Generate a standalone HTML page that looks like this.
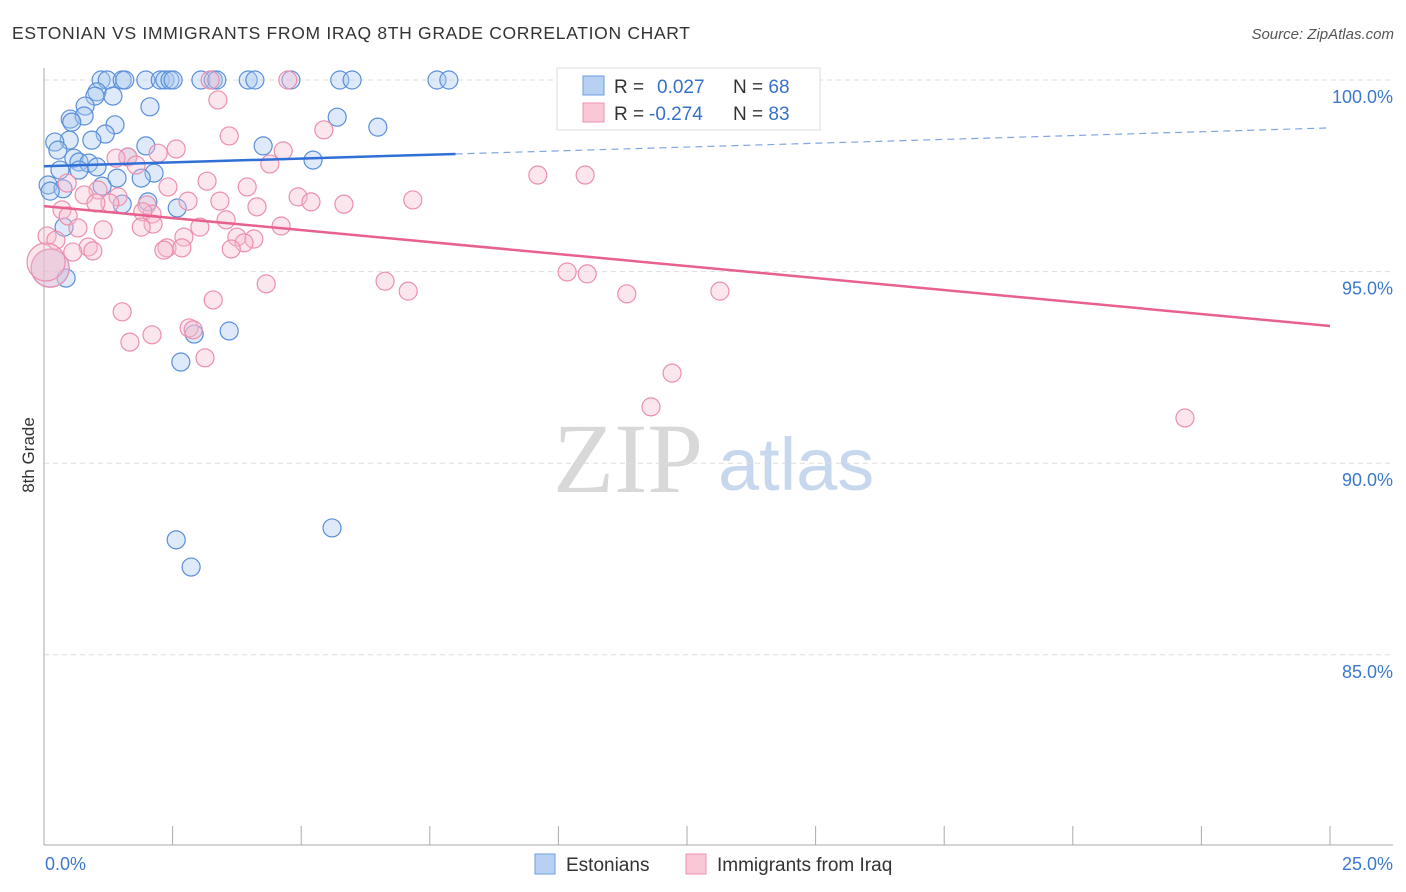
<!DOCTYPE html>
<html><head><meta charset="utf-8"><style>
body{margin:0;background:#fff;font-family:"Liberation Sans",sans-serif;}
svg{display:block}
</style></head><body>
<svg id="chart" width="1406" height="892" xmlns="http://www.w3.org/2000/svg">
<text x="12" y="39" font-size="17.5" fill="#333" textLength="678">ESTONIAN VS IMMIGRANTS FROM IRAQ 8TH GRADE CORRELATION CHART</text>
<text x="1394" y="39" font-size="15" fill="#555" font-style="italic" text-anchor="end">Source: ZipAtlas.com</text>
<g>
<text x="553" y="492" font-family="Liberation Serif,serif" font-size="100" fill="#d8d8d8">ZIP</text>
<text x="718" y="490" font-size="74" fill="#c7d8ee">atlas</text>
</g>
<g id="grid"></g>
<g id="axes"></g>
<g id="pts"></g>
<g id="trend"></g>
<text transform="translate(34,455) rotate(-90)" font-size="17" fill="#333" text-anchor="middle">8th Grade</text>
<g>
<rect x="557" y="68" width="263" height="62" fill="#fff" stroke="#ddd"/>
<rect x="583" y="76" width="21" height="19" fill="#b8d1f3" stroke="#6c9de0"/>
<rect x="583" y="103" width="21" height="19" fill="#f9c8d7" stroke="#ec92ae"/>
<text x="614" y="93" font-size="19" fill="#333">R = <tspan fill="#3671c9" x="657">0.027</tspan><tspan x="733" fill="#333">N = </tspan><tspan fill="#3671c9">68</tspan></text>
<text x="614" y="120" font-size="19" fill="#333">R = <tspan fill="#3671c9" x="649">-0.274</tspan><tspan x="733" fill="#333">N = </tspan><tspan fill="#3671c9">83</tspan></text>
</g>
<g>
<rect x="535" y="854" width="20" height="20" fill="#b8d1f3" stroke="#6c9de0"/>
<text x="566" y="871" font-size="19" fill="#333">Estonians</text>
<rect x="686" y="854" width="20" height="20" fill="#f9c8d7" stroke="#ec92ae"/>
<text x="717" y="871" font-size="19" fill="#333">Immigrants from Iraq</text>
</g>
</svg>
<script>
const yTicks=[100,95,90,85];
const xTickLabels=["0.0%","25.0%"];
const blueX=[1.11,1.23,1.52,1.57,1.98,2.26,2.35,2.45,2.51,3.05,3.29,3.36,3.97,4.10,4.80,5.75,5.99,7.64,7.87,1.03,0.99,1.34,0.80,2.06,0.51,0.78,0.54,5.70,1.38,6.49,1.19,0.49,0.93,0.21,1.98,4.26,0.27,0.58,0.68,0.87,1.63,5.23,1.03,0.31,0.68,2.14,1.42,1.89,0.08,1.13,0.37,0.12,1.52,2.02,2.59,0.39,0.43,3.60,2.92,2.66,2.57,2.86,5.60,0.12];
const blueY=[100,100,100,100,100,100,100,100,100,100,100,100,100,100,100,100,100,100,100,99.69,99.58,99.58,99.32,99.30,98.98,99.06,98.90,99.03,98.83,98.77,98.59,98.43,98.43,98.38,98.28,98.28,98.17,97.96,97.86,97.83,97.99,97.91,97.73,97.65,97.65,97.57,97.44,97.44,97.26,97.23,97.16,97.10,96.76,96.82,96.66,96.16,94.83,93.45,93.37,92.64,88.00,87.29,88.31,95.09];
const pinkX=[14.09,4.74,3.23,3.38,3.60,5.44,2.57,4.65,1.63,2.22,1.79,4.39,1.40,9.60,10.52,0.45,3.17,2.41,3.95,1.05,0.78,1.44,1.28,1.01,2.00,2.80,3.42,4.94,5.19,5.83,7.17,4.14,0.35,0.47,2.10,1.92,2.12,1.89,3.54,3.03,4.61,2.72,3.75,4.08,3.89,1.15,0.66,0.06,0.23,2.39,2.33,2.68,0.86,0.95,0.56,3.64,10.17,10.56,6.63,4.32,7.08,11.33,13.14,3.29,1.52,1.67,2.10,2.82,2.90,3.13,12.21,11.80,22.18,0.12,0.04];
const pinkY=[100,100,100,99.48,98.54,98.70,98.20,98.15,97.99,98.09,97.78,97.81,97.96,97.52,97.52,97.31,97.36,97.21,97.21,97.13,97.00,96.95,96.79,96.79,96.74,96.84,96.84,96.95,96.82,96.76,96.87,96.69,96.61,96.45,96.50,96.56,96.24,96.16,96.35,96.16,96.19,95.90,95.90,95.85,95.75,96.09,96.14,95.93,95.82,95.62,95.56,95.62,95.64,95.54,95.51,95.59,94.99,94.94,94.75,94.68,94.49,94.42,94.49,94.26,93.95,93.16,93.35,93.53,93.48,92.75,92.35,91.47,91.18,95.09,95.25];
const blueTrend=[97.75,98.75];
const pinkTrend=[96.71,93.58];
const NS="http://www.w3.org/2000/svg";
const X=v=>44+v/25*1286;
const Y=v=>80+(100-v)/5*191.6;
function mk(tag,attrs,parent){const e=document.createElementNS(NS,tag);for(const k in attrs)e.setAttribute(k,attrs[k]);document.getElementById(parent).appendChild(e);return e;}
yTicks.forEach(t=>{
 const g=mk('line',{x1:44,x2:1393,y1:Y(t),y2:Y(t),stroke:'#ddd','stroke-dasharray':'5,4'},'grid');
 
 
 const l=mk('text',{x:1393,y:Y(t)+23,'text-anchor':'end','font-size':18,fill:'#3d78cf'},'grid');
 l.textContent=t.toFixed(1)+'%';
 
 
});
const ax=mk('line',{x1:44,x2:44,y1:68,y2:845,stroke:'#aaa'},'axes');


const bx=mk('line',{x1:44,x2:1393,y1:845,y2:845,stroke:'#aaa'},'axes');


for(let i=0;i<=10;i++){const t=mk('line',{x1:X(i*2.5),x2:X(i*2.5),y1:826,y2:845,stroke:'#aaa'},'axes');
 
 }
[[0,'start',45],[25,'end',1393]].forEach((d,i)=>{const t=mk('text',{x:d[2],y:870,'text-anchor':d[1],'font-size':18,fill:'#3d78cf'},'axes');t.textContent=xTickLabels[i];
 
 });
function dots(xs,ys,fill,stroke,name){xs.forEach((x,i)=>{const r=(x<0.2&&ys[i]>94.9&&ys[i]<95.3)?19:9;
 const c=mk('circle',{cx:X(x),cy:Y(ys[i]),r:r,fill:fill,'fill-opacity':0.38,stroke:stroke,'stroke-width':1.2},'pts');
 
 });}
dots(blueX,blueY,'#a9c8f0','#5a8fda','estonian-point');
dots(pinkX,pinkY,'#f7bcd0','#eb8fae','iraq-point');
const bt=v=>blueTrend[0]+(blueTrend[1]-blueTrend[0])*v/25;
const l1=mk('line',{x1:X(0),y1:Y(bt(0)),x2:X(8),y2:Y(bt(8)),stroke:'#2f6fd6','stroke-width':2.5},'trend');


const l2=mk('line',{x1:X(8),y1:Y(bt(8)),x2:X(25),y2:Y(bt(25)),stroke:'#7fa6e0','stroke-width':1.2,'stroke-dasharray':'7,5'},'trend');


const l3=mk('line',{x1:X(0),y1:Y(pinkTrend[0]),x2:X(25),y2:Y(pinkTrend[1]),stroke:'#e8608e','stroke-width':2.5},'trend');


</script>
</body></html>
